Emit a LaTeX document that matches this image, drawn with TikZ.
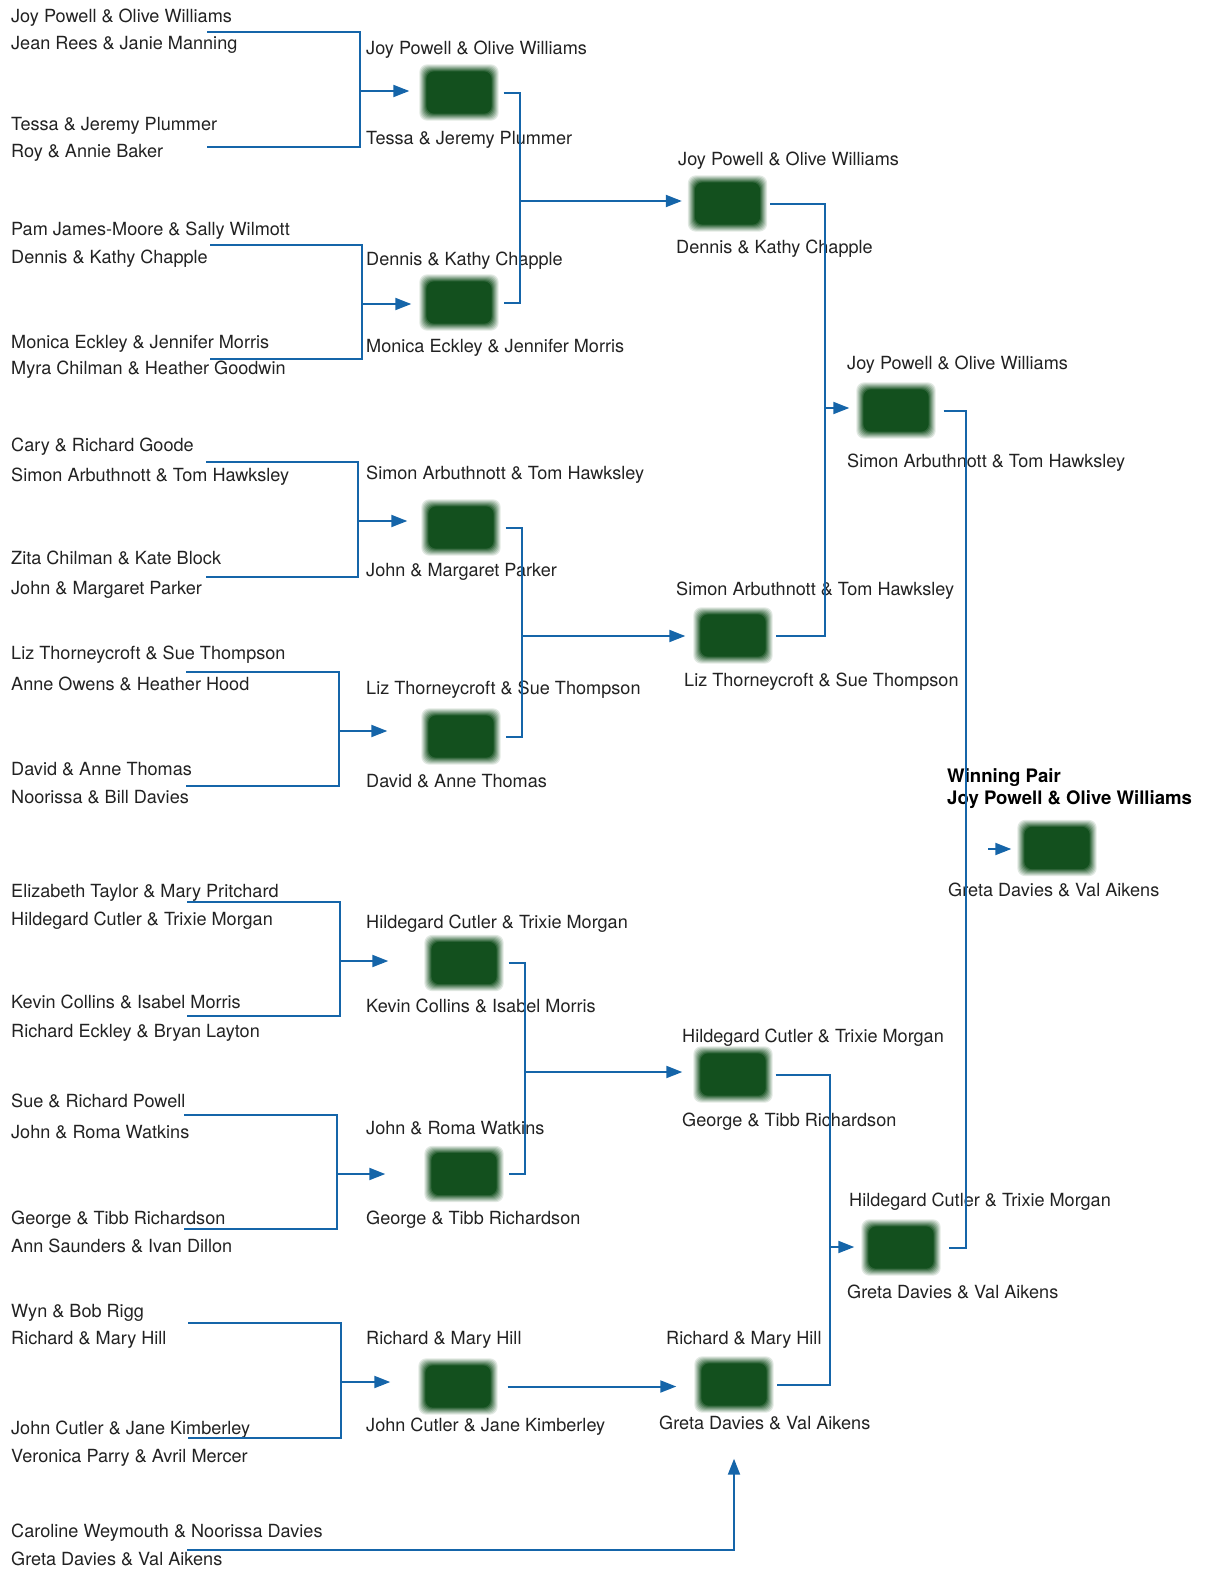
\documentclass[tikz,border=0pt]{standalone}
\usepackage{fontspec}
\setmainfont{TeX Gyre Heros}
\usetikzlibrary{arrows.meta,calc}
\definecolor{boxgreen}{RGB}{19,80,30}
\definecolor{feedblue}{RGB}{21,101,169}
\definecolor{namegray}{RGB}{34,34,34}

\begin{document}
\begin{tikzpicture}[x=1pt,y=-1pt,
    pairname/.style={anchor=west,inner sep=0pt,text height=12.8pt,text depth=0pt,yshift=-1.5pt,
      font=\fontsize{18.1}{21}\selectfont,text=namegray},
    winname/.style={pairname,font=\fontsize{18.6}{21}\selectfont\bfseries,text=black},
    pairbox/.style={minimum width=79pt,minimum height=56pt,inner sep=0pt},
    feed/.style={draw=feedblue,line width=2pt},
    advance/.style={feed,-{Triangle[length=16pt,width=12pt]}}]
  \useasboundingbox (0,0) rectangle (1209,1571);

  % first round
  \node[pairname] (p1) at (11,15) {Joy Powell \& Olive Williams};
  \node[pairname] (p2) at (11,42) {Jean Rees \& Janie Manning};
  \node[pairname] (p3) at (11,123) {Tessa \& Jeremy Plummer};
  \node[pairname] (p4) at (11,150) {Roy \& Annie Baker};
  \node[pairname] (p5) at (11,228) {Pam James-Moore \& Sally Wilmott};
  \node[pairname] (p6) at (11,256) {Dennis \& Kathy Chapple};
  \node[pairname] (p7) at (11,341) {Monica Eckley \& Jennifer Morris};
  \node[pairname] (p8) at (11,367) {Myra Chilman \& Heather Goodwin};
  \node[pairname] (p9) at (11,444) {Cary \& Richard Goode};
  \node[pairname] (p10) at (11,474) {Simon Arbuthnott \& Tom Hawksley};
  \node[pairname] (p11) at (11,557) {Zita Chilman \& Kate Block};
  \node[pairname] (p12) at (11,587) {John \& Margaret Parker};
  \node[pairname] (p13) at (11,652) {Liz Thorneycroft \& Sue Thompson};
  \node[pairname] (p14) at (11,683) {Anne Owens \& Heather Hood};
  \node[pairname] (p15) at (11,768) {David \& Anne Thomas};
  \node[pairname] (p16) at (11,796) {Noorissa \& Bill Davies};
  \node[pairname] (p17) at (11,890) {Elizabeth Taylor \& Mary Pritchard};
  \node[pairname] (p18) at (11,918) {Hildegard Cutler \& Trixie Morgan};
  \node[pairname] (p19) at (11,1001) {Kevin Collins \& Isabel Morris};
  \node[pairname] (p20) at (11,1030) {Richard Eckley \& Bryan Layton};
  \node[pairname] (p21) at (11,1100) {Sue \& Richard Powell};
  \node[pairname] (p22) at (11,1131) {John \& Roma Watkins};
  \node[pairname] (p23) at (11,1217) {George \& Tibb Richardson};
  \node[pairname] (p24) at (11,1245) {Ann Saunders \& Ivan Dillon};
  \node[pairname] (p25) at (11,1310) {Wyn \& Bob Rigg};
  \node[pairname] (p26) at (11,1337) {Richard \& Mary Hill};
  \node[pairname] (p27) at (11,1427) {John Cutler \& Jane Kimberley};
  \node[pairname] (p28) at (11,1455) {Veronica Parry \& Avril Mercer};
  \node[pairname] (p29) at (11,1530) {Caroline Weymouth \& Noorissa Davies};
  \node[pairname] (p30) at (11,1558) {Greta Davies \& Val Aikens};

  % second round
  \node[pairbox] (a2) at (459,92.5) {};
  \node[pairbox] (b2) at (459,302.5) {};
  \node[pairbox] (c2) at (461,527.5) {};
  \node[pairbox] (d2) at (461,736.5) {};
  \node[pairbox] (e2) at (464,963) {};
  \node[pairbox] (f2) at (464,1174) {};
  \node[pairbox] (g2) at (458,1386.5) {};
  \node[pairname] at (366,47) {Joy Powell \& Olive Williams};
  \node[pairname] at (366,137) {Tessa \& Jeremy Plummer};
  \node[pairname] at (366,258) {Dennis \& Kathy Chapple};
  \node[pairname] at (366,345) {Monica Eckley \& Jennifer Morris};
  \node[pairname] at (366,472) {Simon Arbuthnott \& Tom Hawksley};
  \node[pairname] at (366,569) {John \& Margaret Parker};
  \node[pairname] at (366,687) {Liz Thorneycroft \& Sue Thompson};
  \node[pairname] at (366,780) {David \& Anne Thomas};
  \node[pairname] at (366,921) {Hildegard Cutler \& Trixie Morgan};
  \node[pairname] at (366,1005) {Kevin Collins \& Isabel Morris};
  \node[pairname] at (366,1127) {John \& Roma Watkins};
  \node[pairname] at (366,1217) {George \& Tibb Richardson};
  \node[pairname] at (366,1337) {Richard \& Mary Hill};
  \node[pairname] at (366,1424) {John Cutler \& Jane Kimberley};

  % third round
  \node[pairbox] (a3) at (727.5,203.5) {};
  \node[pairbox] (b3) at (733,635.5) {};
  \node[pairbox] (c3) at (733,1074.5) {};
  \node[pairbox] (d3) at (734,1384.5) {};
  \node[pairname] at (678,158) {Joy Powell \& Olive Williams};
  \node[pairname] at (676,246) {Dennis \& Kathy Chapple};
  \node[pairname] at (676,588) {Simon Arbuthnott \& Tom Hawksley};
  \node[pairname] at (684,679) {Liz Thorneycroft \& Sue Thompson};
  \node[pairname] at (682,1035) {Hildegard Cutler \& Trixie Morgan};
  \node[pairname] at (682,1119) {George \& Tibb Richardson};
  \node[pairname] at (666,1337) {Richard \& Mary Hill};
  \node[pairname] at (659,1422) {Greta Davies \& Val Aikens};

  % fourth round and winner
  \node[pairbox] (a4) at (896,410.5) {};
  \node[pairbox] (b4) at (901,1247.5) {};
  \node[pairbox] (w) at (1057,848) {};
  \node[pairname] at (847,362) {Joy Powell \& Olive Williams};
  \node[pairname] at (847,460) {Simon Arbuthnott \& Tom Hawksley};
  \node[pairname] at (849,1199) {Hildegard Cutler \& Trixie Morgan};
  \node[pairname] at (847,1291) {Greta Davies \& Val Aikens};
  \node[winname] at (947,775) {Winning Pair};
  \node[winname] at (947,797) {Joy Powell \& Olive Williams};
  \node[pairname] at (948,889) {Greta Davies \& Val Aikens};

  % blurred green boxes
  \foreach \b in {a2,b2,c2,d2,e2,f2,g2,a3,b3,c3,d3,a4,b4,w}{
    \foreach \i [evaluate=\i as \op using 1/(8-\i)] in {0,...,7}
      \fill[boxgreen,opacity=\op,rounded corners=8pt]
        ($(\b.south west)+(\i pt,\i pt)$) rectangle ($(\b.north east)-(\i pt,\i pt)$);
  }

  % brackets of the first round
  \coordinate (ta) at (207,32);   \coordinate (ua) at (207,147);  \coordinate (ja) at (360,91);
  \coordinate (tb) at (210,245);  \coordinate (ub) at (210,359);  \coordinate (jb) at (362,304);
  \coordinate (tc) at (206,462);  \coordinate (uc) at (206,577);  \coordinate (jc) at (358,521);
  \coordinate (td) at (186,672);  \coordinate (ud) at (186,786);  \coordinate (jd) at (339,731);
  \coordinate (te) at (187,902);  \coordinate (ue) at (187,1016); \coordinate (je) at (340,961);
  \coordinate (tf) at (184,1115); \coordinate (uf) at (184,1229); \coordinate (jf) at (337,1174);
  \coordinate (tg) at (188,1323); \coordinate (ug) at (188,1438); \coordinate (jg) at (341,1382);
  \draw[feed] (ta) -| (ja) |- (ua);
  \draw[feed] (tb) -| (jb) |- (ub);
  \draw[feed] (tc) -| (jc) |- (uc);
  \draw[feed] (td) -| (jd) |- (ud);
  \draw[feed] (te) -| (je) |- (ue);
  \draw[feed] (tf) -| (jf) |- (uf);
  \draw[feed] (tg) -| (jg) |- (ug);
  \draw[advance,shorten >=10pt] (ja) -- (ja -| a2.west);
  \draw[advance,shorten >=8pt] (jb) -- (jb -| b2.west);
  \draw[advance,shorten >=14pt] (jc) -- (jc -| c2.west);
  \draw[advance,shorten >=34pt] (jd) -- (jd -| d2.west);
  \draw[advance,shorten >=36pt] (je) -- (je -| e2.west);
  \draw[advance,shorten >=39pt] (jf) -- (jf -| f2.west);
  \draw[advance,shorten >=28pt] (jg) -- (jg -| g2.west);

  % second round to third round
  \coordinate (jab) at (520,201);
  \coordinate (jcd) at (522,636);
  \coordinate (jef) at (525,1072);
  \draw[feed,shorten <=5pt,shorten >=5pt] (a2.east) -| (jab) |- (b2.east);
  \draw[feed,shorten <=5pt,shorten >=5pt] (c2.east) -| (jcd) |- (d2.east);
  \draw[feed,shorten <=5pt,shorten >=5pt] (e2.east) -| (jef) |- (f2.east);
  \draw[advance,shorten >=6pt] (jab) -- (jab -| a3.west);
  \draw[advance,shorten >=8pt] (jcd) -- (jcd -| b3.west);
  \draw[advance,shorten >=11pt] (jef) -- (jef -| c3.west);
  \draw[advance,shorten <=10pt,shorten >=18pt] (g2.east) -- (g2.east -| d3.west);
  \coordinate (bye) at (187,1550);
  \draw[advance,shorten >=46pt] (bye) -| (d3.south);

  % third round to fourth round
  \coordinate (jab3) at (825,408);
  \coordinate (jcd3) at (830,1247);
  \draw[feed,shorten <=3pt,shorten >=3pt] (a3.east) -| (jab3) |- (b3.east);
  \draw[feed,shorten <=3pt,shorten >=3pt] (c3.east) -| (jcd3) |- (d3.east);
  \draw[advance,shorten >=7pt] (jab3) -- (jab3 -| a4.west);
  \draw[advance,shorten >=7pt] (jcd3) -- (jcd3 -| b4.west);

  % final
  \coordinate (jfin) at (966,849);
  \draw[feed,shorten <=8pt,shorten >=8pt] (a4.east) -| (jfin) |- (b4.east);
  \coordinate (fin) at (988,849);
  \draw[advance,shorten >=6pt] (fin) -- (fin -| w.west);
\end{tikzpicture}
\end{document}
